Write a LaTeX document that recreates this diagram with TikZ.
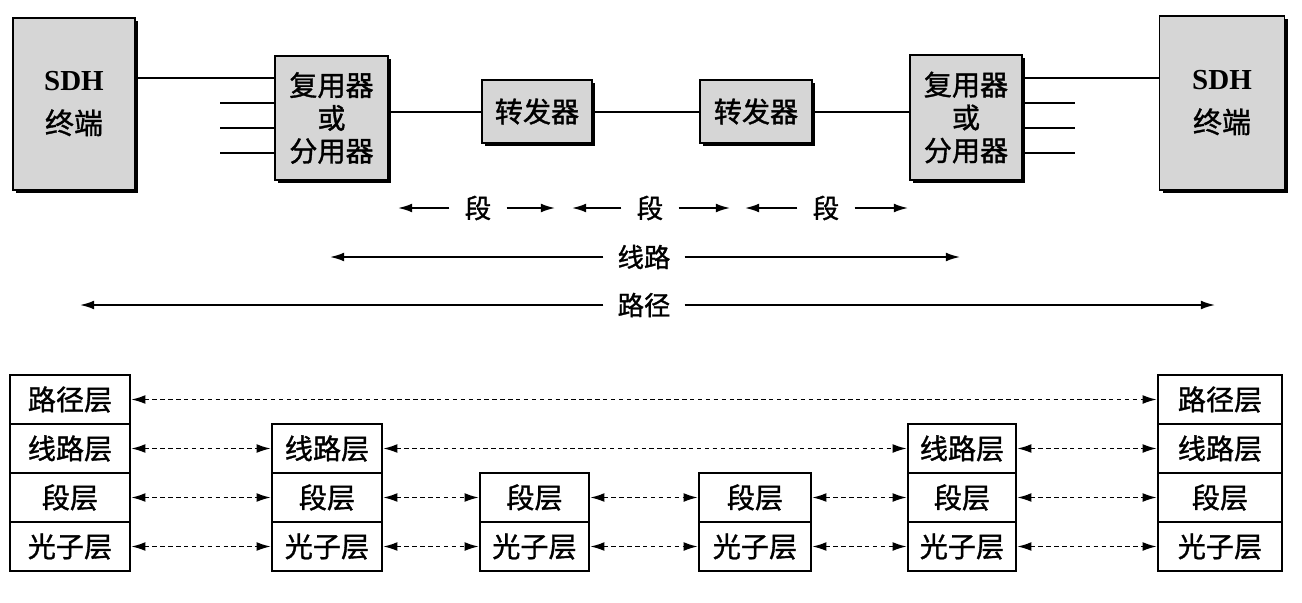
\documentclass[tikz,border=0pt]{standalone}
\usepackage{fontspec}
\newfontfamily\cjk[FakeBold=1.2]{Noto Sans CJK SC}
\newfontfamily\sdhfont{Liberation Serif}
\usetikzlibrary{arrows.meta,shadows}
\definecolor{boxgray}{gray}{0.84}
\begin{document}
\begin{tikzpicture}[x=0.02cm,y=-0.02cm,
  unit/.style={draw, line width=1.1pt, fill=boxgray, inner sep=0pt, align=center,
    drop shadow={shadow xshift=0.06cm, shadow yshift=-0.06cm, fill=black, opacity=1},
    font=\cjk\fontsize{16}{18.7}\selectfont},
  layer/.style={draw, line width=1.4pt, fill=white, inner sep=0pt, minimum height=0.98cm,
    font=\cjk\fontsize{16}{18}\selectfont},
  wire/.style={line width=1.7pt},
  darrow/.style={line width=0.9pt, dash pattern=on 2.5pt off 2pt, {Latex[length=8pt,width=5pt]}-{Latex[length=8pt,width=5pt]}},
  dimarrow/.style={line width=1pt, -{Latex[length=8pt,width=5pt]}},
  lbl/.style={inner ysep=2pt, font=\cjk\fontsize{15}{16}\selectfont}
]
\useasboundingbox (0,0) rectangle (1302,602);

% ---- top row ----
\node[unit, minimum width=2.44cm, minimum height=3.44cm, font=\cjk\fontsize{16.5}{24.4}\selectfont] (sdhL) at (74,104) {{\sdhfont\bfseries SDH}\\终端};
\node[unit, minimum width=2.5cm, minimum height=3.48cm, font=\cjk\fontsize{16.5}{24.4}\selectfont] (sdhR) at (1222,103) {{\sdhfont\bfseries SDH}\\终端};
\node[unit, minimum width=2.26cm, minimum height=2.48cm] (muxL) at (331.5,118) {复用器\\或\\分用器};
\node[unit, minimum width=2.24cm, minimum height=2.5cm] (muxR) at (966,117.5) {复用器\\或\\分用器};
\node[unit, minimum width=2.2cm, minimum height=1.26cm] (rep1) at (537,111.5) {转发器};
\node[unit, minimum width=2.24cm, minimum height=1.26cm] (rep2) at (756,111.5) {转发器};

\draw[wire] (sdhL.east |- 0,78) -- (muxL.west |- 0,78);
\draw[wire] (muxR.east |- 0,78) -- (sdhR.west |- 0,78);
\draw[wire] (muxL.east |- 0,112) -- (rep1.west |- 0,112);
\draw[wire] (rep1.east |- 0,112) -- (rep2.west |- 0,112);
\draw[wire] (rep2.east |- 0,112) -- (muxR.west |- 0,112);
\foreach \y in {103,128,153} {
  \coordinate (tl\y) at (220,\y);
  \coordinate (tr\y) at (1075,\y);
  \draw[wire] (tl\y) -- (muxL.west |- 0,\y);
  \draw[wire] (muxR.east |- 0,\y) -- (tr\y);
}

% ---- dimension arrows ----
\coordinate (s1a) at (398,208); \coordinate (s1b) at (555,208);
\coordinate (s2a) at (572,208); \coordinate (s2b) at (730,208);
\coordinate (s3a) at (745,208); \coordinate (s3b) at (908,208);
\coordinate (xa) at (330,257); \coordinate (xb) at (960,257);
\coordinate (pa) at (80,305); \coordinate (pb) at (1215,305);
\node[lbl, inner xsep=0.3cm] (t1) at (478,208) {段};
\node[lbl, inner xsep=0.3cm] (t2) at (650,208) {段};
\node[lbl, inner xsep=0.3cm] (t3) at (826,208) {段};
\node[lbl, inner xsep=0.28cm] (tx) at (644,257) {线路};
\node[lbl, inner xsep=0.28cm] (tp) at (644,305) {路径};
\foreach \t/\a/\b in {t1/s1a/s1b, t2/s2a/s2b, t3/s3a/s3b, tx/xa/xb, tp/pa/pb} {
  \draw[dimarrow] (\t) -- (\a);
  \draw[dimarrow] (\t) -- (\b);
}

% ---- layer stacks ----
\node[layer, minimum width=2.4cm] (Lp) at (70,399.5) {路径层};
\node[layer, minimum width=2.4cm] (Ll) at (70,448.5) {线路层};
\node[layer, minimum width=2.4cm] (Ls) at (70,497.5) {段层};
\node[layer, minimum width=2.4cm] (Lg) at (70,546.5) {光子层};

\node[layer, minimum width=2.2cm] (Ml) at (327,448.5) {线路层};
\node[layer, minimum width=2.2cm] (Ms) at (327,497.5) {段层};
\node[layer, minimum width=2.2cm] (Mg) at (327,546.5) {光子层};

\node[layer, minimum width=2.18cm] (As) at (534.5,497.5) {段层};
\node[layer, minimum width=2.18cm] (Ag) at (534.5,546.5) {光子层};

\node[layer, minimum width=2.24cm] (Bs) at (755,497.5) {段层};
\node[layer, minimum width=2.24cm] (Bg) at (755,546.5) {光子层};

\node[layer, minimum width=2.16cm] (Nl) at (962,448.5) {线路层};
\node[layer, minimum width=2.16cm] (Ns) at (962,497.5) {段层};
\node[layer, minimum width=2.16cm] (Ng) at (962,546.5) {光子层};

\node[layer, minimum width=2.48cm] (Rp) at (1220,399.5) {路径层};
\node[layer, minimum width=2.48cm] (Rl) at (1220,448.5) {线路层};
\node[layer, minimum width=2.48cm] (Rs) at (1220,497.5) {段层};
\node[layer, minimum width=2.48cm] (Rg) at (1220,546.5) {光子层};

\foreach \a/\b in {Lp/Rp, Ll/Ml, Ml/Nl, Nl/Rl, Ls/Ms, Ms/As, As/Bs, Bs/Ns, Ns/Rs, Lg/Mg, Mg/Ag, Ag/Bg, Bg/Ng, Ng/Rg}
  \draw[darrow] (\a.east) -- (\b.west);
\end{tikzpicture}
\end{document}
